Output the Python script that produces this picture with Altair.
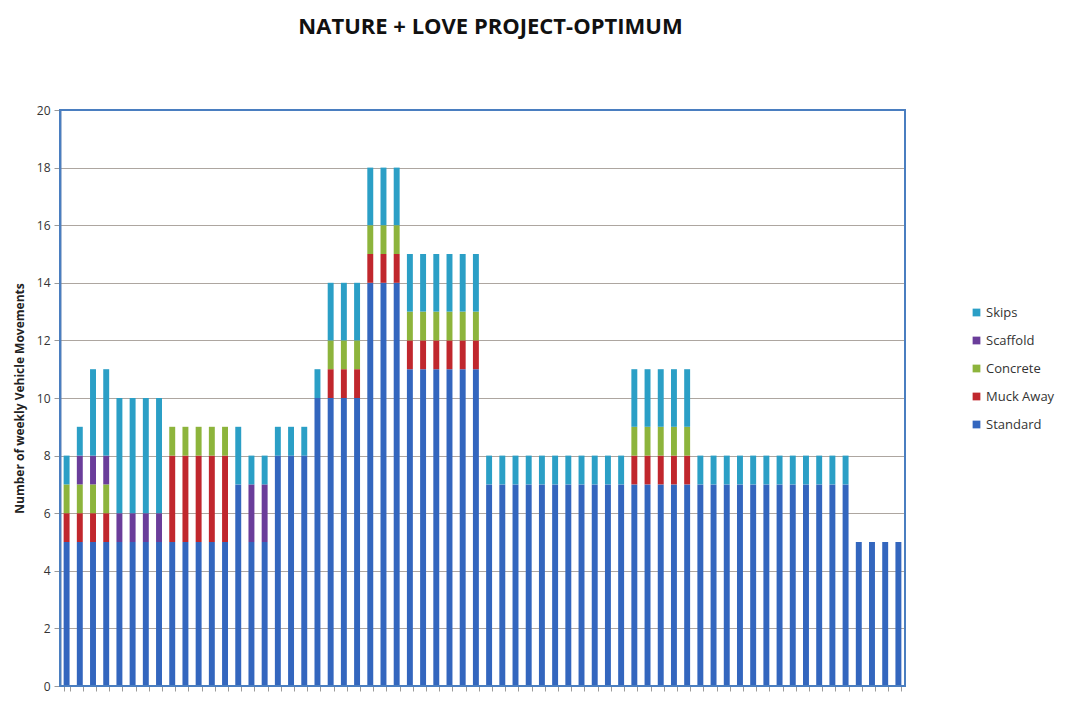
import altair as alt
import pandas as pd

weeks = [f"W{i}" for i in range(1, 65)]

standard = [5, 5, 5, 5, 5, 5, 5, 5, 5, 5, 5, 5, 5, 7, 5, 5,
            8, 8, 8, 10, 10, 10, 10, 14, 14, 14, 11, 11, 11, 11, 11, 11,
            7, 7, 7, 7, 7, 7, 7, 7, 7, 7, 7, 7, 7, 7, 7, 7,
            7, 7, 7, 7, 7, 7, 7, 7, 7, 7, 7, 7, 5, 5, 5, 5]
muck_away = [1, 1, 1, 1, 0, 0, 0, 0, 3, 3, 3, 3, 3, 0, 0, 0,
             0, 0, 0, 0, 1, 1, 1, 1, 1, 1, 1, 1, 1, 1, 1, 1,
             0, 0, 0, 0, 0, 0, 0, 0, 0, 0, 0, 1, 1, 1, 1, 1,
             0, 0, 0, 0, 0, 0, 0, 0, 0, 0, 0, 0, 0, 0, 0, 0]
concrete = [1, 1, 1, 1, 0, 0, 0, 0, 1, 1, 1, 1, 1, 0, 0, 0,
            0, 0, 0, 0, 1, 1, 1, 1, 1, 1, 1, 1, 1, 1, 1, 1,
            0, 0, 0, 0, 0, 0, 0, 0, 0, 0, 0, 1, 1, 1, 1, 1,
            0, 0, 0, 0, 0, 0, 0, 0, 0, 0, 0, 0, 0, 0, 0, 0]
scaffold = [0, 1, 1, 1, 1, 1, 1, 1, 0, 0, 0, 0, 0, 0, 2, 2,
            0, 0, 0, 0, 0, 0, 0, 0, 0, 0, 0, 0, 0, 0, 0, 0,
            0, 0, 0, 0, 0, 0, 0, 0, 0, 0, 0, 0, 0, 0, 0, 0,
            0, 0, 0, 0, 0, 0, 0, 0, 0, 0, 0, 0, 0, 0, 0, 0]
skips = [1, 1, 3, 3, 4, 4, 4, 4, 0, 0, 0, 0, 0, 2, 1, 1,
         1, 1, 1, 1, 2, 2, 2, 2, 2, 2, 2, 2, 2, 2, 2, 2,
         1, 1, 1, 1, 1, 1, 1, 1, 1, 1, 1, 2, 2, 2, 2, 2,
         1, 1, 1, 1, 1, 1, 1, 1, 1, 1, 1, 1, 0, 0, 0, 0]

stack_series = ["Standard", "Muck Away", "Concrete", "Scaffold", "Skips"]
legend_order = ["Skips", "Scaffold", "Concrete", "Muck Away", "Standard"]
legend_colors = ["#2B9FC6", "#6A3D9A", "#8DB43C", "#C0272D", "#3366BE"]

wide = pd.DataFrame({
    "week": weeks,
    "Standard": standard,
    "Muck Away": muck_away,
    "Concrete": concrete,
    "Scaffold": scaffold,
    "Skips": skips,
})
df = wide.melt(id_vars="week", var_name="series", value_name="value")
df = df[df["value"] > 0].copy()
df["stack_idx"] = df["series"].map({s: i for i, s in enumerate(stack_series)})

FONT = "Open Sans"

bars = alt.Chart(df).mark_bar().encode(
    x=alt.X("week:N", sort=weeks,
            scale=alt.Scale(paddingInner=0.55, paddingOuter=0.275),
            axis=alt.Axis(labels=False, title=None, ticks=True, tickBand="extent",
                          domainColor="#9A9A9A", tickColor="#9A9A9A", tickSize=5,
                          grid=False)),
    y=alt.Y("value:Q", stack="zero",
            scale=alt.Scale(domain=[0, 20], nice=False),
            axis=alt.Axis(values=[0, 2, 4, 6, 8, 10, 12, 14, 16, 18, 20],
                          title="Number of  weekly Vehicle Movements",
                          titleFont=FONT, titleFontSize=12, titleFontWeight="bold",
                          titleColor="#222222", titlePadding=10,
                          labelFont=FONT, labelFontSize=12, labelColor="#333333",
                          labelPadding=4, tickSize=6, tickColor="#9A9A9A",
                          domainColor="#5A7FB0", domainWidth=2,
                          gridColor="#ADA6A0", gridWidth=1)),
    color=alt.Color("series:N",
                    scale=alt.Scale(domain=legend_order, range=legend_colors),
                    legend=alt.Legend(title=None, orient="none", legendX=910, legendY=196,
                                      symbolType="square", symbolSize=60,
                                      symbolStrokeWidth=0, rowPadding=14,
                                      labelFont=FONT, labelFontSize=13,
                                      labelColor="#333333", labelOffset=3)),
    order=alt.Order("stack_idx:Q", sort="ascending"),
)

frame = alt.Chart(pd.DataFrame({"f": [0]})).mark_rect(
    fill=None, stroke="#4A7EC0", strokeWidth=2
).encode(
    x=alt.value(0), x2=alt.value("width"), y=alt.value(0), y2=alt.value("height")
)

chart = alt.layer(bars, frame).properties(
    width=845,
    height=576,
    title=alt.TitleParams("NATURE + LOVE PROJECT-OPTIMUM", font=FONT, fontSize=22,
                          fontWeight="bold", color="#111111", anchor="middle",
                          offset=65, dx=8),
    autosize=alt.AutoSizeParams(type="none"),
    padding={"left": 52, "top": 102, "right": 150, "bottom": 7},
    background="white",
).configure_view(
    stroke=None
)

chart.save("out.html", embed_options={"renderer": "svg", "actions": False})
